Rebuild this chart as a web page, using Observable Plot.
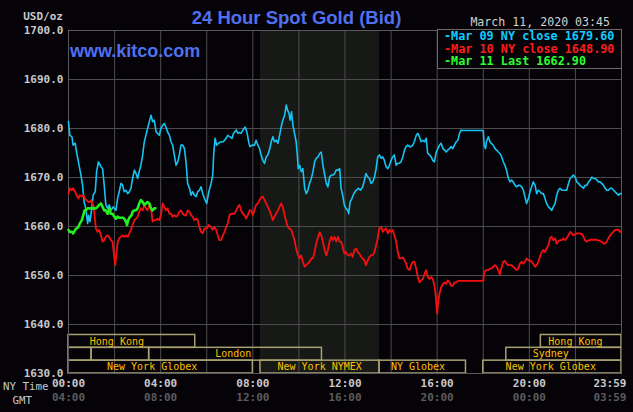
<!DOCTYPE html>
<html><head><meta charset="utf-8">
<script src="https://cdn.jsdelivr.net/npm/d3@7"></script>
<script src="https://cdn.jsdelivr.net/npm/@observablehq/plot@0.6"></script>
<style>
html,body{margin:0;padding:0;background:#050308;}
#chart{position:relative;width:633px;height:412px;overflow:hidden;}
</style></head><body><div id="chart"></div>
<script>
// Mar 09 (cyan): [hour of NY day, price]
const mar09 = [[0,1681.4],[0.06,1678.6],[0.15,1678.3],[0.2,1676.6],[0.29,1677],[0.35,1675.2],[0.43,1673.2],[0.54,1670.5],[0.61,1668.4],[0.68,1665],[0.75,1663.7],[0.83,1660.6],[0.87,1662.3],[0.93,1661],[1.01,1663.7],[1.07,1666.4],[1.16,1667.1],[1.22,1671.2],[1.3,1673.2],[1.41,1672.2],[1.48,1671.8],[1.55,1668.4],[1.62,1664.4],[1.7,1663.7],[1.77,1664.4],[1.84,1663.3],[1.94,1664],[2.06,1663.3],[2.13,1665.7],[2.2,1667.1],[2.28,1668.8],[2.35,1668.4],[2.42,1667.1],[2.49,1667.4],[2.57,1666.7],[2.64,1667.1],[2.71,1667.8],[2.78,1669.8],[2.86,1671.5],[2.93,1670.8],[3.0,1669.8],[3.07,1671.2],[3.14,1672.5],[3.22,1674.6],[3.29,1677.3],[3.36,1678.6],[3.43,1680],[3.51,1681.4],[3.58,1682.7],[3.65,1681.4],[3.72,1681.7],[3.8,1679.3],[3.87,1679],[3.94,1678.6],[4.01,1680],[4.09,1680.7],[4.16,1681],[4.23,1680.3],[4.3,1679.3],[4.38,1678.6],[4.45,1677.3],[4.52,1676.6],[4.59,1674.6],[4.67,1672.5],[4.74,1673.2],[4.81,1674.6],[4.88,1676.6],[4.96,1676.6],[5.03,1675.9],[5.1,1673.2],[5.17,1668.8],[5.25,1667.8],[5.32,1666.4],[5.39,1667.1],[5.46,1666.4],[5.54,1666.1],[5.61,1667.1],[5.68,1667.4],[5.75,1668.1],[5.83,1666.7],[5.9,1665.7],[6.0,1664.7],[6.09,1667.1],[6.19,1668.8],[6.26,1670.5],[6.3,1674.6],[6.36,1678],[6.43,1676.6],[6.52,1677],[6.62,1677.3],[6.72,1677.3],[6.84,1678],[6.91,1678.6],[7.01,1678.3],[7.1,1678],[7.16,1679],[7.28,1679.7],[7.35,1679],[7.42,1679.2],[7.49,1679],[7.57,1679.7],[7.67,1680.3],[7.74,1679.3],[7.83,1677],[7.88,1676.3],[7.97,1676.6],[8.07,1676.6],[8.14,1677.6],[8.22,1676.6],[8.29,1675.9],[8.36,1674.6],[8.43,1673.5],[8.51,1672.9],[8.58,1674.2],[8.65,1674.6],[8.72,1675.6],[8.8,1677.3],[8.87,1678.3],[8.94,1677.3],[9.01,1677.6],[9.09,1677],[9.16,1678.6],[9.23,1680.3],[9.3,1681.7],[9.38,1682.7],[9.45,1684.8],[9.51,1683.7],[9.57,1683.1],[9.62,1681.7],[9.68,1683.4],[9.74,1680.7],[9.81,1679],[9.88,1677.3],[9.93,1674.6],[9.97,1671.8],[10.03,1672.5],[10.1,1671.2],[10.17,1671.8],[10.25,1667.8],[10.32,1666.7],[10.39,1667.4],[10.46,1668.8],[10.54,1669.8],[10.61,1671.2],[10.68,1673.2],[10.75,1673.9],[10.83,1674.2],[10.9,1674.9],[10.97,1675.2],[11.04,1672.5],[11.12,1670.5],[11.19,1668.8],[11.26,1668.1],[11.33,1670.1],[11.41,1670.5],[11.48,1670.5],[11.55,1670.8],[11.62,1671.5],[11.7,1671.5],[11.77,1671.8],[11.83,1667.8],[11.9,1666.4],[11.97,1664.4],[12.04,1663.7],[12.12,1663.3],[12.16,1662.6],[12.22,1665],[12.29,1665.6],[12.38,1666.7],[12.48,1667.4],[12.58,1667.8],[12.67,1667.4],[12.77,1668.1],[12.84,1669.4],[12.91,1670.8],[12.99,1670.1],[13.06,1669.8],[13.13,1668.8],[13.2,1669.1],[13.28,1670.1],[13.35,1671.8],[13.42,1674.2],[13.49,1674.6],[13.57,1673.9],[13.64,1674.2],[13.71,1673.5],[13.78,1672.2],[13.86,1671.8],[13.93,1672.5],[14.0,1673.5],[14.07,1674.2],[14.14,1674.6],[14.22,1672.5],[14.29,1672.9],[14.36,1672.9],[14.43,1673.2],[14.51,1674.2],[14.58,1675.6],[14.65,1676.3],[14.72,1676.6],[14.8,1676.3],[14.87,1676.3],[14.94,1676.6],[15.01,1677.3],[15.09,1678.6],[15.16,1679],[15.23,1678.3],[15.3,1677.3],[15.38,1677.6],[15.45,1677.3],[15.52,1678],[15.59,1674.9],[15.67,1674.6],[15.74,1674.2],[15.81,1673.5],[15.88,1673.2],[15.96,1675.2],[16.03,1675.9],[16.1,1676.6],[16.17,1677],[16.25,1675.9],[16.32,1675.6],[16.39,1675.2],[16.46,1675.6],[16.54,1675.9],[16.61,1676.3],[16.68,1675.9],[16.75,1676.6],[16.83,1677.3],[16.9,1677.6],[16.97,1679],[17.04,1679.7],[17.12,1679.6],[18.0,1679.6],[18.04,1676.6],[18.1,1675.9],[18.14,1677.3],[18.22,1678.3],[18.29,1677.3],[18.36,1676.9],[18.43,1676.6],[18.51,1675.9],[18.58,1675.6],[18.65,1675.2],[18.72,1674.9],[18.8,1674.2],[18.87,1673.2],[18.94,1672.5],[19.01,1671.5],[19.09,1669.8],[19.16,1669.1],[19.23,1669.5],[19.3,1669.1],[19.38,1668.4],[19.45,1668.1],[19.52,1668.4],[19.59,1668.4],[19.67,1668.1],[19.74,1667.4],[19.81,1666.1],[19.88,1664.7],[19.96,1665.7],[20.03,1667.1],[20.1,1668.1],[20.17,1669.1],[20.25,1668.4],[20.32,1666.7],[20.39,1667.4],[20.46,1667.1],[20.54,1666.7],[20.61,1666.7],[20.68,1665.7],[20.75,1664.7],[20.83,1664],[20.9,1663.7],[20.97,1663.3],[21.04,1664],[21.12,1664.7],[21.19,1666.4],[21.26,1667.4],[21.33,1667.8],[21.41,1667.4],[21.48,1667.4],[21.55,1667.4],[21.62,1667.4],[21.7,1668.8],[21.77,1669.8],[21.84,1670.1],[21.91,1670.5],[21.99,1670.1],[22.06,1669.1],[22.13,1668.8],[22.2,1668.4],[22.28,1668.1],[22.35,1667.8],[22.42,1668.4],[22.49,1668.4],[22.57,1669.1],[22.64,1669.5],[22.71,1670.1],[22.78,1669.8],[22.86,1669.8],[22.93,1669.5],[23.0,1669.1],[23.07,1669.1],[23.14,1668.8],[23.22,1668.4],[23.29,1667.8],[23.36,1667.4],[23.43,1667.4],[23.51,1667.8],[23.58,1667.8],[23.65,1667.4],[23.72,1667.1],[23.8,1666.7],[23.87,1666.4],[23.94,1666.7],[23.99,1666.7]];

// Mar 10 (red)
const mar10 = [[0,1666.7],[0.06,1667.8],[0.15,1667.4],[0.2,1667.8],[0.29,1667.1],[0.35,1666.4],[0.43,1665.7],[0.49,1666.4],[0.58,1666.1],[0.64,1666.4],[0.72,1665.7],[0.78,1665.4],[0.87,1665],[0.93,1665],[0.99,1665.4],[1.04,1664.7],[1.1,1664],[1.13,1662.3],[1.19,1659.6],[1.26,1658.9],[1.33,1659.3],[1.41,1658.2],[1.48,1656.9],[1.55,1657.2],[1.62,1657.9],[1.7,1658.2],[1.77,1657.9],[1.84,1657.2],[1.91,1656.9],[1.96,1654.8],[2.0,1653.1],[2.03,1652.1],[2.06,1653.5],[2.1,1655.5],[2.14,1656.9],[2.2,1657.6],[2.28,1657.9],[2.35,1658.2],[2.42,1657.9],[2.49,1658.2],[2.57,1657.9],[2.64,1658.6],[2.71,1659.3],[2.78,1660.3],[2.86,1661.3],[2.93,1661.6],[3.0,1662],[3.07,1663],[3.14,1663.7],[3.22,1663.3],[3.29,1664.4],[3.36,1663.7],[3.43,1663.3],[3.51,1664.4],[3.58,1663.7],[3.65,1661],[3.72,1661.3],[3.8,1661.3],[3.87,1661.6],[3.94,1661.3],[4.01,1662.3],[4.09,1664.7],[4.16,1664],[4.23,1663.3],[4.3,1663.7],[4.38,1662.6],[4.45,1662.6],[4.52,1662],[4.59,1662.3],[4.67,1662],[4.74,1662.3],[4.81,1663],[4.88,1663.3],[4.96,1662.6],[5.03,1662.3],[5.1,1662.3],[5.17,1663.3],[5.25,1663],[5.32,1662.3],[5.39,1662],[5.46,1661.3],[5.54,1661.6],[5.61,1661.3],[5.68,1659.9],[5.75,1658.9],[5.83,1658.6],[5.9,1659.6],[6.0,1659.6],[6.09,1660.3],[6.19,1659.9],[6.26,1659.3],[6.33,1659.9],[6.41,1659.3],[6.48,1658.2],[6.55,1657.2],[6.62,1657.2],[6.7,1658.2],[6.77,1658.9],[6.84,1659.9],[6.91,1660.6],[6.99,1662.3],[7.06,1662.6],[7.13,1662.6],[7.2,1662.6],[7.28,1663.3],[7.35,1664],[7.42,1664.4],[7.49,1663.3],[7.57,1662.6],[7.64,1662.3],[7.71,1661.6],[7.78,1662.3],[7.86,1663.3],[7.93,1663.3],[8.0,1662.3],[8.07,1663.3],[8.14,1664.4],[8.22,1664.7],[8.29,1665.4],[8.36,1665.9],[8.43,1666.1],[8.51,1665.4],[8.58,1664.7],[8.65,1664],[8.72,1663.3],[8.8,1662.3],[8.87,1661.3],[8.94,1662],[9.01,1662.6],[9.09,1663.3],[9.16,1664],[9.23,1664.7],[9.3,1664],[9.38,1662.3],[9.45,1661],[9.52,1659.9],[9.59,1659.6],[9.67,1659.3],[9.74,1658.2],[9.81,1657.2],[9.88,1655.5],[9.96,1654.1],[10.03,1653.5],[10.1,1654.1],[10.17,1652.8],[10.25,1651.8],[10.32,1652.1],[10.39,1652.5],[10.46,1652.8],[10.54,1653.5],[10.61,1653.5],[10.68,1654.8],[10.75,1656.5],[10.83,1657.9],[10.9,1658.8],[10.97,1658.2],[11.04,1656.9],[11.12,1655.2],[11.19,1654.1],[11.26,1655.2],[11.33,1656.9],[11.41,1657.9],[11.48,1657.2],[11.55,1657.9],[11.62,1656.9],[11.7,1657.9],[11.77,1656.9],[11.83,1656.9],[11.9,1655.9],[11.97,1654.5],[12.04,1654.8],[12.12,1654.1],[12.19,1654.1],[12.26,1654.5],[12.33,1653.8],[12.41,1655.2],[12.48,1655.5],[12.55,1654.8],[12.62,1654.5],[12.7,1653.8],[12.77,1653.5],[12.84,1653.1],[12.91,1652.1],[12.99,1653.1],[13.06,1653.8],[13.13,1654.1],[13.2,1654.1],[13.28,1654.8],[13.35,1656.2],[13.42,1657.6],[13.49,1659.6],[13.57,1659.9],[13.64,1658.9],[13.71,1659.3],[13.78,1659.6],[13.86,1658.6],[13.93,1659.3],[14.0,1658.9],[14.07,1659.3],[14.14,1658.2],[14.22,1656.9],[14.29,1654.8],[14.36,1653.5],[14.43,1653.5],[14.51,1653.7],[14.58,1653.1],[14.65,1652.5],[14.72,1651.4],[14.8,1651.1],[14.87,1652.1],[14.94,1652.8],[15.01,1652.8],[15.09,1651.4],[15.16,1649.7],[15.23,1648.6],[15.3,1649],[15.38,1649.3],[15.45,1650.3],[15.52,1651.1],[15.59,1649.7],[15.67,1649.3],[15.74,1649.7],[15.81,1649.3],[15.88,1647.9],[15.93,1646.3],[15.97,1643.9],[16.0,1642.2],[16.03,1643.9],[16.1,1646.3],[16.17,1647.6],[16.25,1648.3],[16.32,1648.6],[16.39,1648.3],[16.46,1649],[16.54,1648.6],[16.61,1647.9],[16.68,1647.9],[16.75,1648.6],[16.83,1648.6],[16.9,1648.9],[18.0,1648.9],[18.04,1650.7],[18.12,1651.1],[18.22,1651.1],[18.29,1651.4],[18.36,1651.4],[18.43,1651.8],[18.51,1652.1],[18.58,1651.8],[18.65,1651.1],[18.72,1650.2],[18.8,1651.8],[18.87,1652.8],[18.94,1653],[19.01,1652.4],[19.09,1652.1],[19.16,1652.1],[19.23,1652.1],[19.3,1651.8],[19.38,1651.4],[19.45,1651.1],[19.52,1651.4],[19.59,1652.4],[19.67,1652.8],[19.74,1652.4],[19.81,1652.8],[19.88,1653.5],[19.96,1653.1],[20.03,1653.1],[20.1,1652.8],[20.17,1652.4],[20.25,1651.8],[20.32,1652.1],[20.39,1652.8],[20.46,1653.8],[20.54,1654.8],[20.61,1655.2],[20.68,1654.8],[20.75,1655.5],[20.83,1656.2],[20.9,1657.6],[20.97,1657.9],[21.04,1657.2],[21.12,1657.6],[21.19,1656.5],[21.26,1657],[21.33,1657.2],[21.41,1657.2],[21.48,1657.6],[21.55,1657.2],[21.62,1657.6],[21.7,1658.2],[21.77,1658.9],[21.84,1658.6],[21.91,1658.2],[21.99,1658.4],[22.06,1658.6],[22.13,1658.6],[22.2,1658.6],[22.28,1658.4],[22.35,1657.9],[22.42,1657.2],[22.49,1656.9],[22.57,1657.2],[22.64,1657.2],[22.71,1657.4],[22.78,1657.2],[22.86,1657.4],[22.93,1657.2],[23.0,1657.2],[23.07,1657],[23.14,1656.9],[23.22,1656.5],[23.29,1656.5],[23.36,1656.9],[23.43,1657.6],[23.51,1658.2],[23.58,1658.6],[23.65,1658.9],[23.72,1659.3],[23.8,1659.3],[23.87,1659.3],[23.94,1658.9],[23.99,1658.9]];

// Mar 11 (green)
const mar11 = [[0,1659.3],[0.06,1658.9],[0.15,1658.9],[0.2,1658.6],[0.29,1659.3],[0.35,1659.6],[0.43,1659.9],[0.49,1660.6],[0.58,1661.3],[0.64,1662.3],[0.7,1663.3],[0.75,1663.3],[0.83,1663.7],[0.9,1663.7],[0.97,1663.7],[1.04,1663.7],[1.12,1663.7],[1.19,1663.7],[1.26,1664],[1.33,1664.4],[1.41,1664.7],[1.48,1664],[1.55,1663.3],[1.62,1663.3],[1.7,1662.6],[1.77,1663.7],[1.84,1662.6],[1.91,1662.6],[1.99,1662],[2.06,1661.6],[2.13,1662],[2.2,1661.8],[2.28,1661.8],[2.35,1661.8],[2.42,1661.6],[2.49,1661],[2.54,1660.3],[2.59,1661.3],[2.67,1662],[2.74,1662.3],[2.78,1663],[2.86,1663.3],[2.93,1663.3],[3.0,1663.7],[3.07,1664.7],[3.14,1665.4],[3.22,1665],[3.29,1664.4],[3.36,1664.7],[3.43,1665],[3.51,1664.7],[3.58,1663.7],[3.65,1663.3],[3.72,1663.7],[3.77,1663.7]];

const gridHours = [0,2,4,6,8,10,12,14,16,18,20,22,24];
const priceTicks = [1630,1640,1650,1660,1670,1680,1690,1700];
const labelHours = [0,4,8,12,16,20,24];
const nyTimeLabels = ["00:00","04:00","08:00","12:00","16:00","20:00","23:59"];
const gmtLabels = ["04:00","08:00","12:00","16:00","20:00","00:00","03:59"];
const nymexPit = [8.33, 13.5];

const sessionNames = ["Hong Kong","","","London","New York Globex","New York NYMEX","NY Globex","New York Globex","Sydney","Hong Kong"];
const sessionRows  = [1,2,2,2,3,3,3,3,2,1];
const sessionStart = [0,0,1,3.5,0,8.33,13.5,18,19,20.5];
const sessionEnd   = [5.5,1,3.5,11,8,13.5,17.25,24,24,24];
const sessionLabelAt = [2.1,null,null,7.15,3.63,10.9,15.17,20.93,20.93,22.0];

const legendLabels = ["Mar 09 NY close","Mar 10 NY close","Mar 11 Last"];
const legendValues = [1679.60,1648.90,1662.90];

const dateStamp = "March 11, 2020 03:45";

// ---- presentation ----
const C_CYAN = "#14c4f2", C_RED = "#f41010", C_GREEN = "#22ee22";
const MONO = "'DejaVu Sans Mono', 'Liberation Mono', monospace";
const ROW_H = 2.62;
const rowTop = r => 1630 + (4 - r) * ROW_H;
const rowBot = r => 1630 + (3 - r) * ROW_H;

const toObj = arr => arr.map(([t, v]) => ({t, v}));
const sessions = sessionNames.map((name, i) => ({
  name, row: sessionRows[i], start: sessionStart[i], end: sessionEnd[i], at: sessionLabelAt[i]
}));
const timeLabels = labelHours.map((h, i) => ({h, ny: nyTimeLabels[i], gmt: gmtLabels[i]}));

const txt = {fontFamily: MONO};

const svg = Plot.plot({
  width: 633, height: 412,
  marginLeft: 68, marginRight: 12, marginTop: 30, marginBottom: 39,
  x: {domain: [0, 24], axis: null},
  y: {domain: [1630, 1700], axis: null},
  style: {background: "#050308", overflow: "visible"},
  marks: [
    Plot.rect([nymexPit], {x1: d => d[0], x2: d => d[1], y1: 1630, y2: 1700, fill: "#171917"}),
    Plot.ruleX(gridHours, {stroke: "#4c4c4c", strokeWidth: 1}),
    Plot.ruleY(priceTicks, {stroke: "#4c4c4c", strokeWidth: 1}),
    Plot.rect(sessions, {x1: "start", x2: "end", y1: d => rowTop(d.row), y2: d => rowBot(d.row),
      fill: "none", stroke: "#a8a070", strokeWidth: 1.5}),
    Plot.text(sessions.filter(d => d.name), {x: "at", y: d => (rowTop(d.row) + rowBot(d.row)) / 2,
      text: "name", fill: "#ffc000", fontSize: 10, ...txt}),
    Plot.frame({stroke: "#5a5a5a"}),
    Plot.line(toObj(mar09), {x: "t", y: "v", stroke: C_CYAN, strokeWidth: 1.6}),
    Plot.line(toObj(mar10), {x: "t", y: "v", stroke: C_RED, strokeWidth: 1.8}),
    Plot.line(toObj(mar11), {x: "t", y: "v", stroke: C_GREEN, strokeWidth: 2.6}),
    Plot.text(priceTicks, {y: d => d, text: d => d.toFixed(1), frameAnchor: "left", dx: -5,
      textAnchor: "end", fill: "#c8c8c8", fontSize: 11, fontWeight: "bold", ...txt}),
    Plot.text(timeLabels.slice(0, 6), {x: "h", text: "ny", frameAnchor: "bottom", dy: 13,
      fill: "#c8c8c8", fontSize: 11, fontWeight: "bold", ...txt}),
    Plot.text(timeLabels.slice(0, 6), {x: "h", text: "gmt", frameAnchor: "bottom", dy: 27,
      fill: "#5c5c5c", fontSize: 11, fontWeight: "bold", ...txt}),
    Plot.text(timeLabels.slice(6), {x: "h", text: "ny", frameAnchor: "bottom", dy: 13, dx: 5,
      textAnchor: "end", fill: "#c8c8c8", fontSize: 11, fontWeight: "bold", ...txt}),
    Plot.text(timeLabels.slice(6), {x: "h", text: "gmt", frameAnchor: "bottom", dy: 27, dx: 5,
      textAnchor: "end", fill: "#5c5c5c", fontSize: 11, fontWeight: "bold", ...txt})
  ]
});

const s = d3.select(svg);
const addText = (x, y, anchor, str, attrs) => {
  const t = s.append("text").attr("x", x).attr("y", y).attr("text-anchor", anchor).text(str);
  Object.entries(attrs).forEach(([k, v]) => t.attr(k, v));
  return t;
};
addText(296.5, 24, "middle", "24 Hour Spot Gold (Bid)",
  {"font-family": "'Liberation Sans', Arial, sans-serif", "font-weight": "bold", "font-size": 18.5, fill: "#5070f0"});
addText(70, 56.5, "start", "www.kitco.com",
  {"font-family": "'Liberation Sans', Arial, sans-serif", "font-weight": "bold", "font-size": 18, fill: "#5070f0"});
addText(63, 19.5, "end", "USD/oz",
  {"font-family": MONO, "font-weight": "bold", "font-size": 11, fill: "#c8c8c8"});
addText(610, 26, "end", dateStamp,
  {"font-family": MONO, "font-size": 11.6, fill: "#d0d0d0"});
addText(3, 390, "start", "NY Time",
  {"font-family": MONO, "font-size": 10.8, fill: "#c8c8c8"});
addText(12.5, 404, "start", "GMT",
  {"font-family": MONO, "font-size": 10.8, fill: "#c8c8c8"});
// legend
s.append("rect").attr("x", 437.5).attr("y", 29.5).attr("width", 184).attr("height", 39)
  .attr("fill", "#050308").attr("stroke", "#6a6a6a");
const legendColors = ["#10ccff", "#ff1a1a", "#2cff2c"];
legendLabels.forEach((lab, i) => {
  addText(444, 40 + i * 12.5, "start", "-" + lab + " " + legendValues[i].toFixed(2),
    {"font-family": MONO, "font-weight": "bold", "font-size": 11.8, fill: legendColors[i]});
});

document.getElementById("chart").appendChild(svg);
</script>
</body></html>
